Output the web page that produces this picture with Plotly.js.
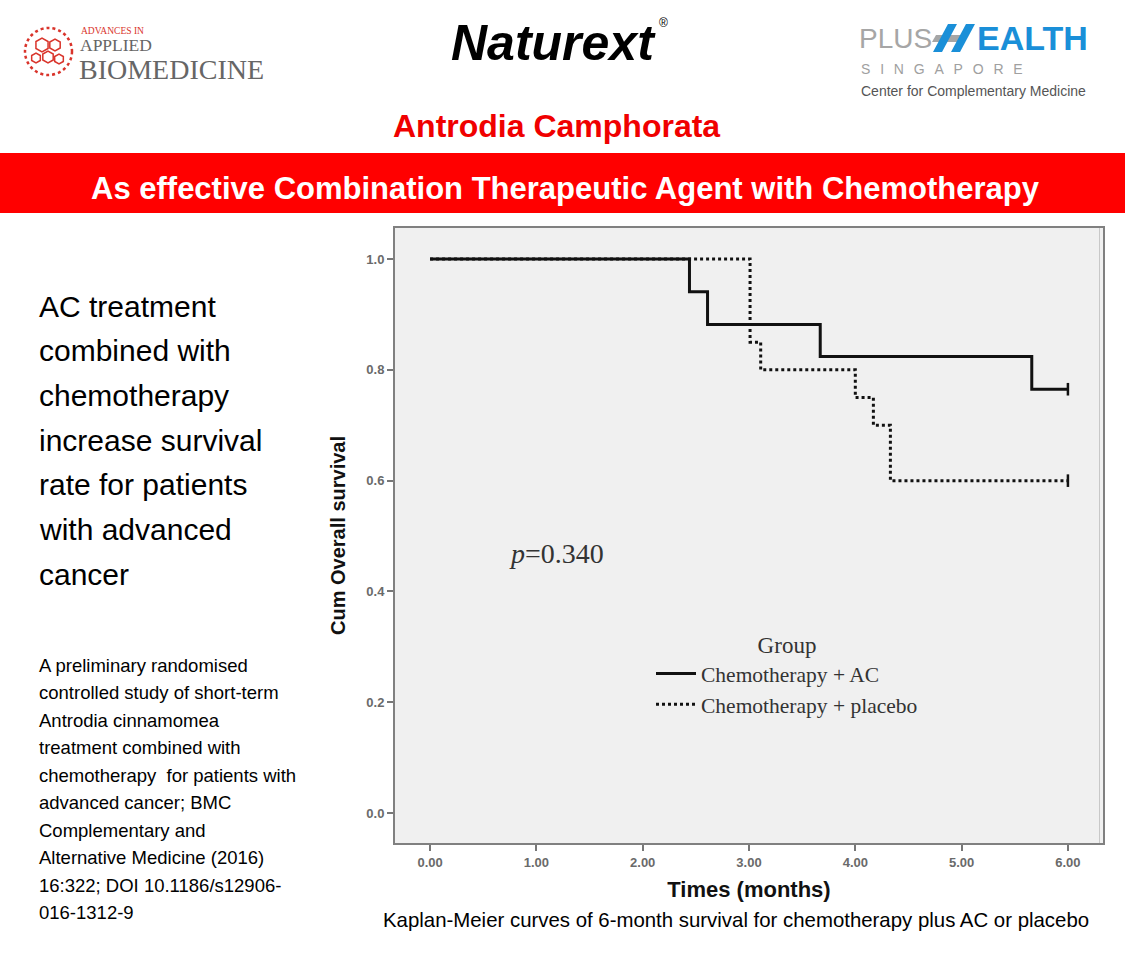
<!DOCTYPE html>
<html><head><meta charset="utf-8">
<script src="https://cdn.plot.ly/plotly-3.0.1.min.js"></script>
<style>html,body{margin:0;padding:0;background:#fff;overflow:hidden}#chart{width:1125px;height:957px}</style>
</head><body><div id="chart"></div>
<script>
// ---- data ----
const acTime = [0, 2.44, 2.61, 3.67, 5.66, 6.0];
const acSurv = [1.0, 0.941, 0.882, 0.824, 0.765, 0.765];
const plTime = [0, 3.01, 3.11, 4.00, 4.17, 4.33, 6.0];
const plSurv = [1.0, 0.85, 0.80, 0.75, 0.70, 0.60, 0.60];
const acCensorTime = [6.0];
const acCensorSurv = [0.765];
const plCensorTime = [6.0];
const plCensorSurv = [0.60];
const seriesNames = ['Chemotherapy + AC', 'Chemotherapy + placebo'];
const xTickVals = [0, 1, 2, 3, 4, 5, 6];
const xTickText = ['0.00', '1.00', '2.00', '3.00', '4.00', '5.00', '6.00'];
const yTickVals = [0, 0.2, 0.4, 0.6, 0.8, 1.0];
const yTickText = ['0.0', '0.2', '0.4', '0.6', '0.8', '1.0'];
const pValueText = '<i>p</i>=0.340';
const pValuePos = [1.19, 0.468];

const slideTitle = 'Antrodia Camphorata';
const bannerText = 'As effective Combination Therapeutic Agent with Chemotherapy';
const leftLines = ['AC treatment', 'combined with', 'chemotherapy', 'increase survival',
  'rate for patients', 'with advanced', 'cancer'];
const citeLines = ['A preliminary randomised', 'controlled study of short-term', 'Antrodia cinnamomea',
  'treatment combined with', 'chemotherapy  for patients with', 'advanced cancer; BMC',
  'Complementary and', 'Alternative Medicine (2016)', '16:322; DOI 10.1186/s12906-', '016-1312-9'];
const captionText = 'Kaplan-Meier curves of 6-month survival for chemotherapy plus AC or placebo';

// ---- page geometry helpers (pixel -> paper) ----
const L = 395, T = 228, W = 708, H = 615, PW = 1125, PH = 957;
const px = x => (x - L) / W;
const py = y => (T + H - y) / H;

const SANS = 'Liberation Sans, Arial, sans-serif';
const SERIF = 'Liberation Serif, Times New Roman, serif';

const ann = [];
function txt(text, x, y, size, opts) {
  opts = opts || {};
  ann.push({
    text: text, xref: 'paper', yref: 'paper', x: px(x), y: py(y),
    xanchor: opts.xanchor || 'left', yanchor: 'middle', showarrow: false,
    font: {family: opts.family || SANS, size: size, color: opts.color || '#000', weight: opts.weight || 'normal'}
  });
}
// logos
txt('ADVANCES IN', 79, 31, 9.5, {family: SERIF, color: '#d9342b'});
txt('APPLIED', 78, 45, 17.5, {family: SERIF, color: '#666'});
txt('BIOMEDICINE', 77, 69.5, 28, {family: SERIF, color: '#666'});
txt('<b><i>Naturext</i></b>', 553, 43, 50, {xanchor: 'center', color: '#000'});
txt('®', 663, 23, 12, {xanchor: 'center', color: '#000'});
txt('PLUS', 857, 38, 28, {color: '#a6a6a6'});
txt('<b>EALTH</b>', 975, 38, 34, {color: '#1a8fd8'});
txt('S\u2002\u2009I\u2002\u2009N\u2002\u2009G\u2002\u2009A\u2002\u2009P\u2002\u2009O\u2002\u2009R\u2002\u2009E', 859, 69, 14, {color: '#a0a0a0'});
txt('Center for Complementary Medicine', 859, 91, 14, {color: '#555'});
// titles
txt('<b>' + slideTitle + '</b>', 556, 126, 32, {xanchor: 'center', color: '#f00000'});
txt('<b>' + bannerText + '</b>', 565, 188, 31, {xanchor: 'center', color: '#fff'});
// left texts
leftLines.forEach((s, i) => txt(s, 37, 306 + i * 44.7, 30));
citeLines.forEach((s, i) => txt(s, 37, 665 + i * 27.55, 18.5));
txt(captionText, 736, 920, 20.4, {xanchor: 'center'});
// p value in data coords
ann.push({text: pValueText, x: pValuePos[0], y: pValuePos[1], xref: 'x', yref: 'y', showarrow: false,
  xanchor: 'center', yanchor: 'middle', font: {family: SERIF, size: 28, color: '#333'}});

// shapes
function hexPath(cx, cy, r) {
  let d = '';
  for (let k = 0; k < 6; k++) {
    const a = Math.PI / 6 + k * Math.PI / 3;
    d += (k ? ' L ' : 'M ') + px(cx + r * Math.cos(a)) + ',' + py(cy + r * Math.sin(a));
  }
  return d + ' Z';
}
function polyPath(pts) {
  return pts.map((p, k) => (k ? 'L ' : 'M ') + px(p[0]) + ',' + py(p[1])).join(' ') + ' Z';
}
const shapes = [
  {type: 'rect', xref: 'paper', yref: 'paper', x0: px(0), x1: px(PW), y0: py(213), y1: py(153),
   fillcolor: '#ff0000', line: {width: 0}, layer: 'below'},
  {type: 'circle', xref: 'paper', yref: 'paper', x0: px(25), x1: px(72), y0: py(75), y1: py(28),
   line: {color: '#d9342b', width: 2.5, dash: 'dot'}},
  {type: 'path', xref: 'paper', yref: 'paper', path: hexPath(42, 45, 7), line: {color: '#d9342b', width: 1.5}},
  {type: 'path', xref: 'paper', yref: 'paper', path: hexPath(55, 45, 6), line: {color: '#d9342b', width: 1.5}},
  {type: 'path', xref: 'paper', yref: 'paper', path: hexPath(48, 57, 6), line: {color: '#d9342b', width: 1.5}},
  {type: 'path', xref: 'paper', yref: 'paper', path: hexPath(36, 58, 5), line: {color: '#d9342b', width: 1.5}},
  {type: 'path', xref: 'paper', yref: 'paper', path: hexPath(59, 59, 5), line: {color: '#d9342b', width: 1.5}},
  // stylised H of PLUS HEALTH
  {type: 'path', xref: 'paper', yref: 'paper', path: polyPath([[936, 35], [966, 35], [962, 42], [932, 42]]),
   fillcolor: '#a6a6a6', line: {width: 0}},
  {type: 'path', xref: 'paper', yref: 'paper', path: polyPath([[933, 52], [942, 52], [957, 24], [948, 24]]),
   fillcolor: '#1a8fd8', line: {width: 0}},
  {type: 'path', xref: 'paper', yref: 'paper', path: polyPath([[951, 52], [960, 52], [975, 24], [966, 24]]),
   fillcolor: '#1a8fd8', line: {width: 0}},
  // inner line of the doubled right frame
  {type: 'line', xref: 'paper', yref: 'paper', x0: 1 - 3.5 / W, x1: 1 - 3.5 / W, y0: 0, y1: 1,
   line: {color: '#c8c8c8', width: 1}}
];

const censorMarker = {symbol: 'line-ns-open', size: 9, color: '#111', line: {width: 2.5, color: '#111'}};
const traces = [
  {x: acTime, y: acSurv, name: seriesNames[0], mode: 'lines', line: {shape: 'hv', color: '#111', width: 3}},
  {x: plTime, y: plSurv, name: seriesNames[1], mode: 'lines', line: {shape: 'hv', color: '#111', width: 3, dash: 'dot'}},
  {x: acCensorTime, y: acCensorSurv, mode: 'markers', showlegend: false, hoverinfo: 'skip', marker: censorMarker},
  {x: plCensorTime, y: plCensorSurv, mode: 'markers', showlegend: false, hoverinfo: 'skip', marker: censorMarker}
];

const tickFont = {family: SANS, size: 13, color: '#6a6a6a', weight: 'bold'};
const layout = {
  width: PW, height: PH, autosize: false,
  margin: {l: L, r: PW - L - W, t: T, b: PH - T - H, pad: 0},
  paper_bgcolor: '#ffffff', plot_bgcolor: '#f0f0f0',
  showlegend: true,
  legend: {x: px(651), y: py(623), xanchor: 'left', yanchor: 'top', bgcolor: 'rgba(0,0,0,0)',
    font: {family: SERIF, size: 21.5, color: '#333'}, itemwidth: 40,
    title: {text: 'Group', side: 'top center', font: {family: SERIF, size: 23, color: '#333'}}},
  xaxis: {range: [-0.33, 6.33], tickvals: xTickVals, ticktext: xTickText, ticks: 'outside', ticklen: 6,
    tickwidth: 2, tickcolor: '#777', showline: true, linecolor: '#808080', linewidth: 2, mirror: true,
    showgrid: false, zeroline: false, tickfont: tickFont,
    title: {text: 'Times (months)', standoff: 13, font: {family: SANS, size: 22, color: '#111', weight: 'bold'}}},
  yaxis: {range: [-0.054, 1.056], tickvals: yTickVals, ticktext: yTickText, ticks: 'outside', ticklen: 6,
    tickwidth: 2, tickcolor: '#777', showline: true, linecolor: '#808080', linewidth: 2, mirror: true,
    showgrid: false, zeroline: false, tickfont: tickFont,
    title: {text: 'Cum Overall survival', standoff: 15, font: {family: SANS, size: 20, color: '#111', weight: 'bold'}}},
  annotations: ann,
  shapes: shapes
};
Plotly.newPlot('chart', traces, layout, {staticPlot: true, displayModeBar: false});
</script>
</body></html>
